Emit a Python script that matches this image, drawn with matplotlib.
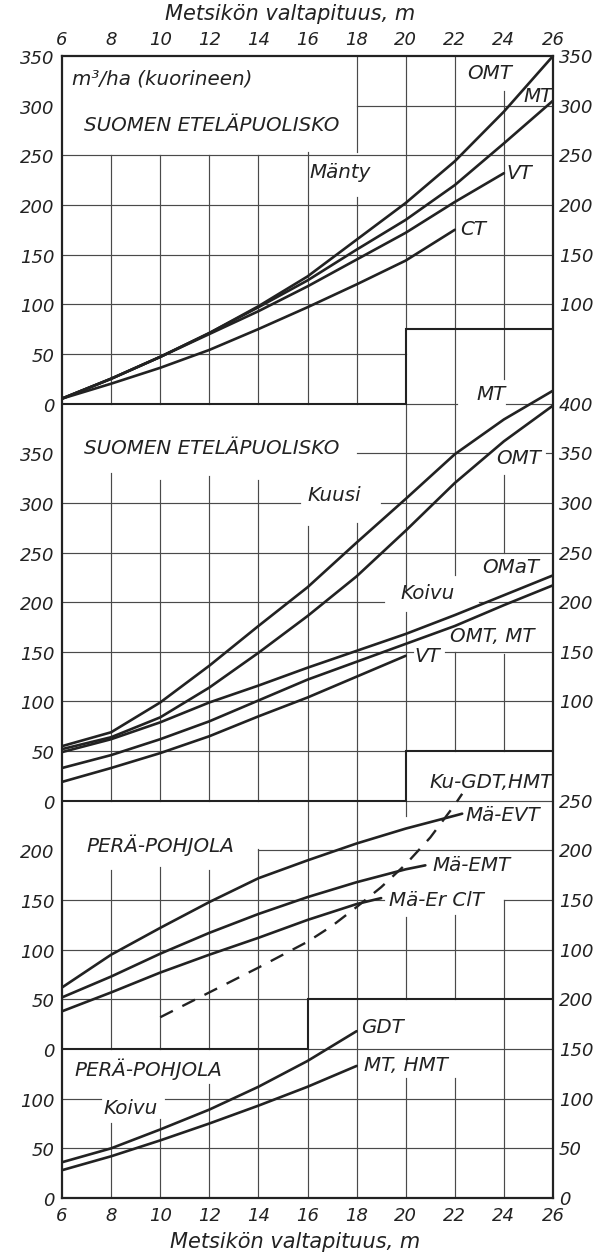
import matplotlib
matplotlib.use("Agg")
import matplotlib.pyplot as plt
import numpy as np

# ------------------------------------------------------------------ data
x_ticks = [6, 8, 10, 12, 14, 16, 18, 20, 22, 24, 26]

# Panel 1 - Mänty, Suomen eteläpuolisko (m3/ha)
manty_x = [6, 8, 10, 12, 14, 16, 18, 20, 22, 24, 26]
manty_omt = [5, 25, 47, 71, 98, 128, 165, 202, 244, 294, 350]
manty_mt = [5, 25, 47, 71, 97, 124, 155, 185, 220, 262, 305]
manty_vt_x = [6, 8, 10, 12, 14, 16, 18, 20, 22, 24]
manty_vt = [5, 25, 47, 70, 93, 118, 145, 172, 203, 232]
manty_ct_x = [6, 8, 10, 12, 14, 16, 18, 20, 22]
manty_ct = [5, 20, 36, 54, 75, 97, 120, 144, 175]

# Panel 2 - Kuusi and Koivu, Suomen eteläpuolisko
kuusi_x = [6, 8, 10, 12, 14, 16, 18, 20, 22, 24, 26]
kuusi_mt = [55, 69, 99, 136, 176, 215, 260, 304, 349, 384, 413]
kuusi_omt = [52, 64, 84, 114, 149, 186, 226, 272, 320, 362, 398]
koivu_x = [6, 8, 10, 12, 14, 16, 18, 20, 22, 24, 26]
koivu_omat = [49, 62, 79, 99, 116, 134, 151, 168, 187, 207, 227]
koivu_omt_mt = [33, 46, 62, 80, 101, 122, 140, 158, 176, 197, 217]
koivu_vt_x = [6, 8, 10, 12, 14, 16, 18, 20]
koivu_vt = [19, 33, 48, 65, 85, 104, 125, 146]

# Panel 3 - Perä-Pohjola (Mänty, Kuusi)
evt_x = [6, 8, 10, 12, 14, 16, 18, 20, 22, 22.3]
mae_evt = [62, 95, 122, 148, 172, 190, 207, 222, 235, 237]
emt_x = [6, 8, 10, 12, 14, 16, 18, 20, 20.8]
mae_emt = [52, 73, 96, 117, 136, 153, 168, 181, 185]
erclt_x = [6, 8, 10, 12, 14, 16, 18, 19]
mae_erclt = [38, 57, 77, 95, 112, 130, 146, 152]
ku_x = [10, 12, 14, 16, 17, 18, 19, 20, 21, 22, 22.3]
ku_gdt_hmt = [32, 57, 82, 108, 124, 143, 163, 186, 213, 246, 257]

# Panel 4 - Perä-Pohjola, Koivu
pp_koivu_x = [6, 8, 10, 12, 14, 16, 18]
pp_koivu_gdt = [36, 50, 69, 89, 112, 138, 168]
pp_koivu_mt_hmt = [28, 42, 58, 75, 93, 112, 133]

# value-axis labels of each panel
p1_left = [0, 50, 100, 150, 200, 250, 300, 350]
p1_right = [100, 150, 200, 250, 300, 350]
p2_left = [0, 50, 100, 150, 200, 250, 300, 350]
p2_right = [100, 150, 200, 250, 300, 350, 400]
p3_left = [0, 50, 100, 150, 200]
p3_right = [100, 150, 200, 250]
p4_left = [0, 50, 100]
p4_right = [0, 50, 100, 150, 200]

# ------------------------------------------------------------------ layout
OFF1, OFF2, OFF3, OFF4 = 800, 400, 150, 0   # panel zero levels on a common scale
INK = "#222222"
GRID = "#4a4a4a"
FONT = dict(family="DejaVu Sans", style="italic", color=INK)

fig = plt.figure(figsize=(6.05, 12.52), dpi=100)
fig.patch.set_facecolor("white")
ax = fig.add_axes([62 / 605, 54 / 1252, 491 / 605, 1142 / 1252])
ax.set_xlim(6, 26)
ax.set_ylim(0, 1150)
ax.set_xticks([])
ax.set_yticks([])
for s in ax.spines.values():
    s.set_linewidth(1.6)
    s.set_color(INK)

# thin grid segments (x, y0, y1) and (y, x0, x1) on the common scale
vgrid = [
    (8, 800, 1050), (10, 800, 1050), (12, 800, 1050), (14, 800, 1050),
    (16, 800, 1053), (18, 800, 1008), (18, 1053, 1150), (20, 875, 1150),
    (22, 627, 1150), (24, 825, 1115),
    (8, 400, 730), (10, 400, 723), (12, 400, 727), (14, 400, 723),
    (16, 400, 677), (18, 400, 680), (20, 450, 590), (20, 612, 800),
    (22, 450, 550), (24, 450, 548), (24, 650, 728),
    (8, 150, 330), (10, 150, 333), (12, 150, 330), (14, 150, 351),
    (16, 200, 400), (18, 200, 400), (20, 200, 283), (20, 385, 400),
    (22, 200, 285), (24, 200, 300),
    (8, 0, 76), (10, 0, 80), (12, 0, 115), (14, 0, 150), (16, 0, 150),
    (18, 0, 200), (20, 0, 121), (22, 0, 121), (24, 0, 200),
]
hgrid = [
    (1100, 18, 26), (1050, 6, 26), (1000, 6, 26), (950, 6, 26), (900, 6, 26),
    (850, 6, 20),
    (800, 20, 22.1), (800, 24.1, 26), (750, 18, 23.4), (750, 25.7, 26),
    (700, 6, 15.7), (700, 19.0, 26), (650, 6, 26), (600, 6, 19.1),
    (600, 23.0, 26), (550, 6, 20.3), (550, 21.6, 26), (500, 6, 26),
    (450, 6, 20),
    (400, 20, 26), (350, 14, 26), (300, 6, 19.1), (300, 24, 26), (250, 6, 26),
    (200, 6, 16),
    (150, 16, 26), (100, 6, 7.6), (100, 10.2, 26), (50, 6, 26),
]
for x, y0, y1 in vgrid:
    ax.plot([x, x], [y0, y1], color=GRID, lw=0.85, zorder=1)
for y, x0, x1 in hgrid:
    ax.plot([x0, x1], [y, y], color=GRID, lw=0.85, zorder=1)

# stepped panel boundaries (thick)
bounds = [
    ([6, 20, 20, 26], [800, 800, 875, 875]),
    ([6, 20, 20, 26], [400, 400, 450, 450]),
    ([6, 16, 16, 26], [150, 150, 200, 200]),
]
for bx, by in bounds:
    ax.plot(bx, by, color=INK, lw=1.5, zorder=2, solid_joinstyle="miter")

# ------------------------------------------------------------------ curves
def curve(x, v, off, **kw):
    ax.plot(x, np.asarray(v, dtype=float) + off, color=INK, lw=1.9,
            solid_capstyle="round", solid_joinstyle="round", zorder=3, **kw)

curve(manty_x, manty_omt, OFF1)
curve(manty_x, manty_mt, OFF1)
curve(manty_vt_x, manty_vt, OFF1)
curve(manty_ct_x, manty_ct, OFF1)

curve(kuusi_x, kuusi_mt, OFF2)
curve(kuusi_x, kuusi_omt, OFF2)
curve(koivu_x, koivu_omat, OFF2)
curve(koivu_x, koivu_omt_mt, OFF2)
curve(koivu_vt_x, koivu_vt, OFF2)

curve(evt_x, mae_evt, OFF3)
curve(emt_x, mae_emt, OFF3)
curve(erclt_x, mae_erclt, OFF3)
ax.plot(ku_x, np.asarray(ku_gdt_hmt, dtype=float) + OFF3, color=INK, lw=1.7,
        linestyle=(0, (6, 4.5)), zorder=3)

curve(pp_koivu_x, pp_koivu_gdt, OFF4)
curve(pp_koivu_x, pp_koivu_mt_hmt, OFF4)

# ------------------------------------------------------------------ axis labels
for xt in x_ticks:
    ax.text(xt, 1166, str(xt), ha="center", va="center", fontsize=13,
            clip_on=False, **FONT)
    ax.text(xt, -18, str(xt), ha="center", va="center", fontsize=13,
            clip_on=False, **FONT)

for vals, off in [(p1_left, OFF1), (p2_left, OFF2), (p3_left, OFF3), (p4_left, OFF4)]:
    for v in vals:
        ax.text(6 - 0.3, v + off - 3, str(v), ha="right", va="center",
                fontsize=13, clip_on=False, **FONT)
for vals, off in [(p1_right, OFF1), (p2_right, OFF2), (p3_right, OFF3), (p4_right, OFF4)]:
    for v in vals:
        ax.text(26 + 0.25, v + off - 2, str(v), ha="left", va="center",
                fontsize=13, clip_on=False, **FONT)

ax.text(15.3, 1192, "Metsikön valtapituus, m", ha="center", va="center",
        fontsize=15, clip_on=False, **FONT)
ax.text(15.5, -44, "Metsikön valtapituus, m", ha="center", va="center",
        fontsize=15, clip_on=False, **FONT)

# ------------------------------------------------------------------ texts in panels
texts = [
    (6.4, 1127, "m³/ha (kuorineen)"),
    (6.9, 1080, "SUOMEN ETELÄPUOLISKO"),
    (16.1, 1033, "Mänty"),
    (22.5, 1132, "OMT"),
    (24.8, 1109, "MT"),
    (24.1, 1032, "VT"),
    (22.2, 975, "CT"),
    (6.9, 755, "SUOMEN ETELÄPUOLISKO"),
    (16.0, 707, "Kuusi"),
    (22.9, 809, "MT"),
    (23.7, 745, "OMT"),
    (23.1, 635, "OMaT"),
    (19.8, 609, "Koivu"),
    (21.8, 565, "OMT, MT"),
    (20.35, 545, "VT"),
    (7.0, 355, "PERÄ-POHJOLA"),
    (20.95, 418, "Ku-GDT,HMT"),
    (22.45, 385, "Mä-EVT"),
    (21.1, 335, "Mä-EMT"),
    (19.3, 300, "Mä-Er ClT"),
    (6.5, 130, "PERÄ-POHJOLA"),
    (7.7, 90, "Koivu"),
    (18.2, 172, "GDT"),
    (18.3, 133, "MT, HMT"),
]
for x, y, s in texts:
    ax.text(x, y, s, ha="left", va="center", fontsize=14.3, zorder=4, **FONT)

fig.savefig("out.png", dpi=100, facecolor="white")
